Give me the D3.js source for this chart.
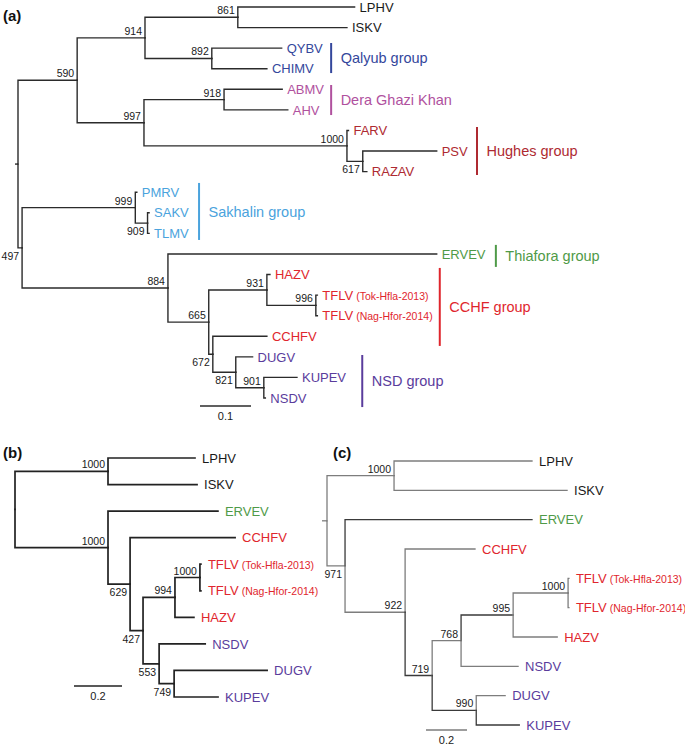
<!DOCTYPE html>
<html>
<head>
<meta charset="utf-8">
<script src="https://cdn.jsdelivr.net/npm/d3@7"></script>
<style>
  body { margin: 0; background: #fff; }
  svg { display: block; font-family: "Liberation Sans", Arial, sans-serif; }
</style>
</head>
<body>
<svg id="fig" width="685" height="746"></svg>
<script>
// ---- data: [id, parent, branch length, bootstrap] ----
var treeA = [
  ["root", "", 0],
  ["a590", "root", 0.116, "590"],
  ["a914", "a590", 0.133, "914"],
  ["a861", "a914", 0.182, "861"],
  ["LPHV", "a861", 0.229],
  ["ISKV", "a861", 0.214],
  ["a892", "a914", 0.131, "892"],
  ["QYBV", "a892", 0.137],
  ["CHIMV", "a892", 0.108],
  ["a997", "a590", 0.131, "997"],
  ["a918", "a997", 0.157, "918"],
  ["ABMV", "a918", 0.114],
  ["AHV", "a918", 0.125],
  ["a1000", "a997", 0.398, "1000"],
  ["FARV", "a1000", 0.003],
  ["a617", "a1000", 0.031, "617"],
  ["PSV", "a617", 0.145],
  ["RAZAV", "a617", 0.008],
  ["a497", "root", 0.008, "497"],
  ["a999", "a497", 0.222, "999"],
  ["PMRV", "a999", 0.003],
  ["a909", "a999", 0.024, "909"],
  ["SAKV", "a909", 0.003],
  ["TLMV", "a909", 0.003],
  ["a884", "a497", 0.286, "884"],
  ["ERVEV", "a884", 0.527],
  ["a665", "a884", 0.080, "665"],
  ["a931", "a665", 0.114, "931"],
  ["HAZV", "a931", 0.006],
  ["a996", "a931", 0.096, "996"],
  ["TFLV1", "a996", 0.003],
  ["TFLV2", "a996", 0.003],
  ["a672", "a665", 0.008, "672"],
  ["CCHFV", "a672", 0.106],
  ["a821", "a672", 0.045, "821"],
  ["DUGV", "a821", 0.033],
  ["a901", "a821", 0.055, "901"],
  ["KUPEV", "a901", 0.065],
  ["NSDV", "a901", 0.003]
];

var treeB = [
  ["root", "", 0],
  ["b1000a", "root", 0.3875, "1000"],
  ["LPHV", "b1000a", 0.3625],
  ["ISKV", "b1000a", 0.371],
  ["b1000b", "root", 0.3875, "1000"],
  ["ERVEV", "b1000b", 0.458],
  ["b629", "b1000b", 0.092, "629"],
  ["CCHFV", "b629", 0.4375],
  ["b427", "b629", 0.054, "427"],
  ["b994", "b427", 0.133, "994"],
  ["b1000c", "b994", 0.104, "1000"],
  ["TFLV1", "b1000c", 0.004],
  ["TFLV2", "b1000c", 0.004],
  ["HAZV", "b994", 0.079],
  ["b553", "b427", 0.067, "553"],
  ["NSDV", "b553", 0.192],
  ["b749", "b553", 0.0625, "749"],
  ["DUGV", "b749", 0.3875],
  ["KUPEV", "b749", 0.183]
];

var treeC = [
  ["root", "", 0],
  ["c1000a", "root", 0.327, "1000"],
  ["LPHV", "c1000a", 0.673],
  ["ISKV", "c1000a", 0.844],
  ["c971", "root", 0.088, "971"],
  ["ERVEV", "c971", 0.912],
  ["c922", "c971", 0.293, "922"],
  ["CCHFV", "c922", 0.341],
  ["c719", "c922", 0.132, "719"],
  ["c768", "c719", 0.141, "768"],
  ["c995", "c768", 0.254, "995"],
  ["c1000b", "c995", 0.268, "1000"],
  ["TFLV1", "c1000b", 0.004],
  ["TFLV2", "c1000b", 0.004],
  ["HAZV", "c995", 0.215],
  ["NSDV", "c768", 0.278],
  ["c990", "c719", 0.215, "990"],
  ["DUGV", "c990", 0.141],
  ["KUPEV", "c990", 0.21]
];

var strains = { TFLV1: "(Tok-Hfla-2013)", TFLV2: "(Nag-Hfor-2014)" };

var leafGroup = {
  LPHV: "other", ISKV: "other", QYBV: "qalyub", CHIMV: "qalyub",
  ABMV: "dera", AHV: "dera", FARV: "hughes", PSV: "hughes", RAZAV: "hughes",
  PMRV: "sakhalin", SAKV: "sakhalin", TLMV: "sakhalin", ERVEV: "thiafora",
  HAZV: "cchf", TFLV1: "cchf", TFLV2: "cchf", CCHFV: "cchf",
  DUGV: "nsd", KUPEV: "nsd", NSDV: "nsd"
};

var groupLabels = [
  ["Qalyub group", "qalyub"],
  ["Dera Ghazi Khan", "dera"],
  ["Hughes group", "hughes"],
  ["Sakhalin group", "sakhalin"],
  ["Thiafora group", "thiafora"],
  ["CCHF group", "cchf"],
  ["NSD group", "nsd"]
];

// ---- styling / placement ----
var groupColor = {
  other: "#1a1a1a", qalyub: "#34479c", dera: "#b0519e", hughes: "#ae2a31",
  sakhalin: "#4aa3dd", thiafora: "#4f9a48", cchf: "#df262d", nsd: "#5a3c9c"
};

// bracket x in tree units, y span in leaf-index units
var bracketPlace = [
  [0.614, 1.75, 3.21], [0.614, 3.79, 5.25], [0.900, 5.83, 8.16],
  [0.355, 8.55, 11.32], [0.937, 11.56, 12.63], [0.827, 12.68, 16.47],
  [0.675, 16.91, 19.44]
];

var svg = d3.select("#fig");
svg.append("rect").attr("width", 685).attr("height", 746).attr("fill", "#fff");

function drawTree(rows, opt) {
  var g = svg.append("g");
  var root = d3.stratify().id(function(d){ return d[0]; }).parentId(function(d){ return d[1] || null; })(rows);

  root.eachBefore(function(n){ n.dist = n.parent ? n.parent.dist + (n.data[2] || 0) : 0; });
  var k = 0;
  root.eachBefore(function(n){ if (!n.children) n.leafIndex = k++; });

  var x = d3.scaleLinear().domain([0, 1]).range(opt.xRange);
  var y = d3.scaleLinear().domain([0, k - 1]).range(opt.yRange);

  root.eachAfter(function(n){
    n.py = n.children ? (n.children[0].py + n.children[n.children.length - 1].py) / 2 : y(n.leafIndex);
  });

  // root stub
  if (opt.stub) {
    g.append("path")
      .attr("d", "M" + (x(0) - opt.stub) + "," + root.py + "H" + x(0))
      .attr("fill", "none").attr("stroke", opt.stroke).attr("stroke-width", opt.width);
  }

  // branches
  g.selectAll("path.br")
    .data(root.links())
    .enter().append("path")
    .attr("class", "br")
    .attr("d", function(l){
      return "M" + x(l.source.dist) + "," + l.source.py + "V" + l.target.py + "H" + x(l.target.dist);
    })
    .attr("fill", "none")
    .attr("stroke", function(l){ return opt.dark && opt.dark.indexOf(l.target.id) >= 0 ? "#3a3a3a" : opt.stroke; })
    .attr("stroke-width", opt.width)
    .attr("stroke-linecap", "square");

  // bootstrap values
  g.selectAll("text.bs")
    .data(root.descendants().filter(function(n){ return n.children && n.data[3]; }))
    .enter().append("text")
    .attr("class", "bs")
    .attr("x", function(n){ return x(n.dist) - 3; })
    .attr("y", function(n){ return opt.below.indexOf(n.id) >= 0 ? n.py + 12 : n.py - 3; })
    .attr("text-anchor", "end")
    .attr("font-size", "10.5px")
    .attr("fill", "#1a1a1a")
    .text(function(n){ return n.data[3]; });

  // leaf names
  var lf = g.selectAll("text.leaf")
    .data(root.leaves())
    .enter().append("text")
    .attr("class", "leaf")
    .attr("x", function(n){ return x(n.dist) + opt.gap; })
    .attr("y", function(n){ return n.py; })
    .attr("dy", "0.36em")
    .attr("font-size", "13px")
    .attr("fill", function(n){ return groupColor[leafGroup[n.id]]; });
  lf.append("tspan").text(function(n){ return n.id.replace(/\d+$/, ""); });
  lf.filter(function(n){ return strains[n.id]; })
    .append("tspan").attr("font-size", "10.5px").attr("dx", 3)
    .text(function(n){ return strains[n.id]; });

  // scale bar
  var sb = opt.scaleBar;
  g.append("line")
    .attr("x1", sb[1]).attr("x2", sb[1] + x(sb[0]) - x(0))
    .attr("y1", sb[2]).attr("y2", sb[2])
    .attr("stroke", opt.stroke).attr("stroke-width", 1.4);
  g.append("text")
    .attr("x", sb[1] + (x(sb[0]) - x(0)) / 2).attr("y", sb[2] + 14)
    .attr("text-anchor", "middle").attr("font-size", "11px").attr("fill", "#1a1a1a")
    .text(sb[0]);

  // panel letter
  g.append("text")
    .attr("x", opt.letter[1]).attr("y", opt.letter[2])
    .attr("font-size", "15px").attr("font-weight", "bold").attr("fill", "#111")
    .text(opt.letter[0]);

  return { x: x, y: y, g: g };
}

var A = drawTree(treeA, {
  xRange: [18, 528], yRange: [7, 398], stub: 3, gap: 5,
  stroke: "#2b2b2b", width: 1.4,
  below: ["a497", "a617", "a909", "a672", "a821"],
  scaleBar: [0.1, 200, 406], letter: ["(a)", 3, 21]
});

// group brackets on panel (a)
groupLabels.forEach(function(gl, i){
  var p = bracketPlace[i];
  var bx = A.x(p[0]), y1 = A.y(p[1]), y2 = A.y(p[2]);
  A.g.append("line")
    .attr("x1", bx).attr("x2", bx).attr("y1", y1).attr("y2", y2)
    .attr("stroke", groupColor[gl[1]]).attr("stroke-width", 2);
  A.g.append("text")
    .attr("x", bx + 9.5).attr("y", (y1 + y2) / 2).attr("dy", "0.36em")
    .attr("font-size", "14.5px").attr("fill", groupColor[gl[1]])
    .text(gl[0]);
});

drawTree(treeB, {
  xRange: [15, 255], yRange: [458, 697], stub: 0, gap: 7,
  stroke: "#222", width: 1.7,
  below: ["b629", "b427", "b553", "b749"],
  scaleBar: [0.2, 74, 686], letter: ["(b)", 3, 458]
});

drawTree(treeC, {
  xRange: [327, 532], yRange: [461, 725], stub: 5, gap: 7,
  stroke: "#7d7d7d", width: 1.3,
  dark: ["ERVEV", "c719", "c995", "c990", "KUPEV"],
  below: ["c971"],
  scaleBar: [0.2, 426, 730], letter: ["(c)", 333, 458]
});
</script>
</body>
</html>
